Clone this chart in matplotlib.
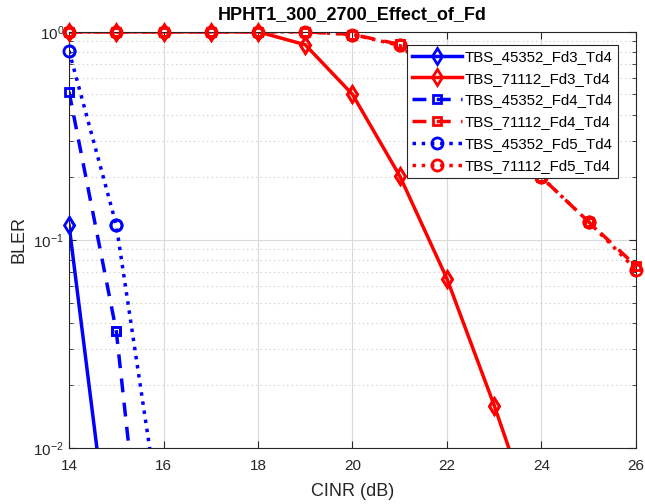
import numpy as np
import matplotlib
matplotlib.use('Agg')
import matplotlib.pyplot as plt
from matplotlib.ticker import LogLocator, NullFormatter

plt.rcParams['font.family'] = ['Liberation Sans', 'DejaVu Sans']

# datos
cinr = [14, 15, 16, 17, 18, 19, 20, 21, 22, 23, 24, 25, 26]

bler_45352_fd3 = [0.118, 0.0018]
bler_45352_fd4 = [0.515, 0.0365, 0.0003]
bler_45352_fd5 = [0.81, 0.118, 0.0036]

bler_71112_fd3 = [1.0, 1.0, 1.0, 1.0, 1.0, 0.866, 0.5, 0.203, 0.065, 0.016, 0.0035]
bler_71112_fd4 = [1.0, 1.0, 1.0, 1.0, 1.0, 1.0, 0.97, 0.87, 0.56, 0.34, 0.2, 0.122, 0.075]
bler_71112_fd5 = [1.0, 1.0, 1.0, 1.0, 1.0, 1.0, 0.97, 0.86, 0.55, 0.33, 0.2, 0.122, 0.072]

etiquetas = ['TBS_45352_Fd3_Td4', 'TBS_71112_Fd3_Td4',
             'TBS_45352_Fd4_Td4', 'TBS_71112_Fd4_Td4',
             'TBS_45352_Fd5_Td4', 'TBS_71112_Fd5_Td4']

series = [bler_45352_fd3, bler_71112_fd3, bler_45352_fd4,
          bler_71112_fd4, bler_45352_fd5, bler_71112_fd5]
colores = ['#0000ff', '#ff0000'] * 3
estilos = ['-', '-', '--', '--', ':', ':']
marcas = ['d', 'd', 's', 's', 'o', 'o']
tamanos = [8, 8, 6, 6, 8, 8]

fig = plt.figure(figsize=(6.45, 5.04), dpi=100)
ax = fig.add_axes([0.107, 0.111, 0.879, 0.826])

for y, c, ls, m, ms, lab in zip(series, colores, estilos, marcas, tamanos, etiquetas):
    x = cinr[:len(y)]
    linea, = ax.plot(x, y, ls, color=c, marker=m, mfc='none', mew=2, ms=ms,
                     lw=2.5, label=lab)
    if ls == '--':
        linea.set_dashes((4, 3))
    # marcadores sin recortar en los bordes, como en matlab
    xv = [a for a, b in zip(x, y) if b >= 0.01]
    yv = [b for b in y if b >= 0.01]
    ax.plot(xv, yv, ls='none', color=c, marker=m, mfc='none', mew=2, ms=ms,
            clip_on=False, zorder=3)

ax.set_yscale('log')
ax.set_xlim(14, 26)
ax.set_ylim(1e-2, 1)
ax.set_xticks(np.arange(14, 27, 2))
ax.yaxis.set_minor_locator(LogLocator(base=10, subs=np.arange(2, 10)))
ax.yaxis.set_minor_formatter(NullFormatter())

ax.grid(True, which='major', color='#d9d9d9', lw=0.8)
ax.grid(True, which='minor', axis='y', color='#c8c8c8', ls=(0, (1, 3)), lw=0.8)
ax.set_axisbelow(True)

ax.tick_params(which='both', direction='in', top=True, right=True, labelsize=11,
               colors='#262626')
ax.tick_params(axis='x', pad=8)
ax.tick_params(which='major', length=5)
ax.tick_params(which='minor', length=3)
for s in ax.spines.values():
    s.set_color('#262626')
    s.set_linewidth(0.8)

ax.set_title('HPHT1_300_2700_Effect_of_Fd', fontsize=13, fontweight='bold', pad=9)
ax.set_xlabel('CINR (dB)', fontsize=13, color='#262626', labelpad=7)
ax.set_ylabel('BLER', fontsize=13, color='#262626', labelpad=4)

leg = ax.legend(loc='upper right', bbox_to_anchor=(0.968, 0.969), fontsize=10.8,
                handlelength=3.3, handletextpad=0.2, labelspacing=0.52,
                borderpad=0.35, fancybox=False, framealpha=1, edgecolor='#262626',
                borderaxespad=0)
leg.get_frame().set_linewidth(0.8)

fig.savefig('out.png', dpi=100)
